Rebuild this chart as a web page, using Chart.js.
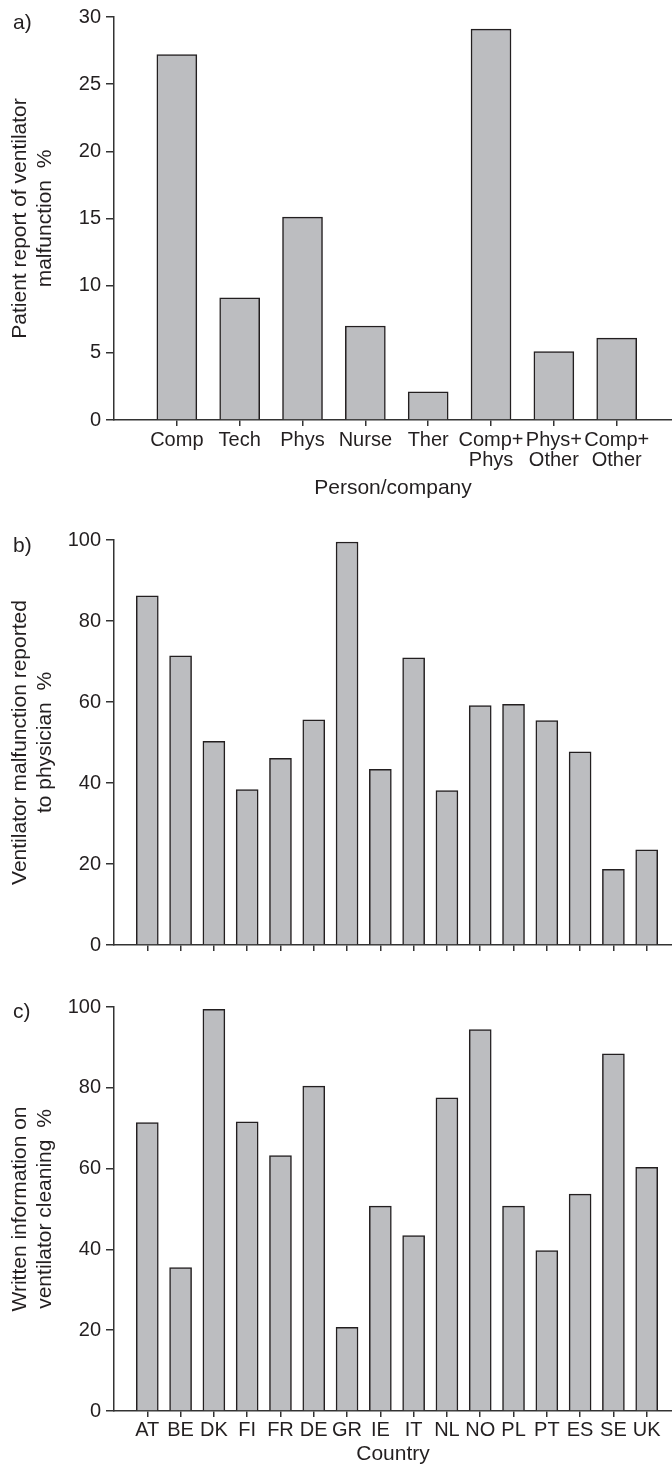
<!DOCTYPE html>
<html>
<head>
<meta charset="utf-8">
<title>Ventilator survey</title>
<script src="https://cdn.jsdelivr.net/npm/chart.js@4/dist/chart.umd.min.js"></script>
<style>
  html, body { margin: 0; padding: 0; background: #ffffff; }
  body { width: 672px; height: 1466px; position: relative; overflow: hidden; }
  canvas { position: absolute; left: 0; display: block; }
</style>
</head>
<body>
<canvas id="panelA" width="672" height="505" style="top:0px"></canvas>
<canvas id="panelB" width="672" height="485" style="top:505px"></canvas>
<canvas id="panelC" width="672" height="476" style="top:990px"></canvas>
<script>
// ---- data ----
const personCategories = ['Comp', 'Tech', 'Phys', 'Nurse', 'Ther', 'Comp+\nPhys', 'Phys+\nOther', 'Comp+\nOther'];
const patientReportMalfunction = [27.2, 9.1, 15.1, 7.0, 2.1, 29.1, 5.1, 6.1];

const countries = ['AT', 'BE', 'DK', 'FI', 'FR', 'DE', 'GR', 'IE', 'IT', 'NL', 'NO', 'PL', 'PT', 'ES', 'SE', 'UK'];
const reportedToPhysician = [86.2, 71.4, 50.3, 38.4, 46.1, 55.6, 99.5, 43.4, 70.9, 38.1, 59.1, 59.4, 55.4, 47.7, 18.7, 23.5];
const writtenCleaningInfo = [71.4, 35.5, 99.4, 71.6, 63.2, 80.4, 20.7, 50.7, 43.4, 77.5, 94.4, 50.7, 39.7, 53.7, 88.4, 60.3];

const yTicksPerson = [0, 5, 10, 15, 20, 25, 30];
const yTicksCountry = [0, 20, 40, 60, 80, 100];

// ---- styling ----
const INK = '#231f20';
const AXIS = '#333333';
const BAR_FILL = '#bcbdc0';
const FONT = '"Liberation Sans", Arial, Helvetica, sans-serif';

// small "a)", "b)", "c)" panel letters
const panelLetter = {
  id: 'panelLetter',
  afterDraw(chart, args, opts) {
    if (!opts || !opts.text) return;
    const ctx = chart.ctx;
    ctx.save();
    ctx.font = opts.size + 'px ' + FONT;
    ctx.fillStyle = INK;
    ctx.textAlign = 'left';
    ctx.textBaseline = 'alphabetic';
    ctx.fillText(opts.text, opts.x, opts.y);
    ctx.restore();
  }
};

function buildPanel(canvasId, cfg) {
  return new Chart(document.getElementById(canvasId), {
    type: 'bar',
    data: {
      datasets: [{
        data: cfg.values.map((v, i) => ({ x: i + 1, y: v })),
        backgroundColor: BAR_FILL,
        borderColor: INK,
        borderWidth: 1.5,
        barThickness: cfg.barWidth
      }]
    },
    options: {
      responsive: false,
      animation: false,
      devicePixelRatio: 1,
      layout: { padding: { top: cfg.padTop, left: 0, right: 0, bottom: 0 } },
      plugins: {
        legend: { display: false },
        tooltip: { enabled: false },
        panelLetter: cfg.letter
      },
      scales: {
        x: {
          type: 'linear',
          min: 0,
          max: cfg.xMax,
          offset: false,
          afterBuildTicks: s => { s.ticks = cfg.labels.map((_, i) => ({ value: i + 1 })); },
          afterFit: s => { s.height = cfg.xHeight; },
          grid: {
            display: true, offset: false, drawOnChartArea: false, drawTicks: true,
            tickLength: 6, color: AXIS, lineWidth: 1.5
          },
          border: { display: true, color: AXIS, width: 1.5 },
          ticks: {
            display: cfg.showXLabels,
            autoSkip: false, maxRotation: 0, minRotation: 0,
            padding: cfg.xPad,
            color: INK,
            font: { family: FONT, size: 20, lineHeight: 1.0 },
            callback: v => {
              const lbl = cfg.labels[Math.round(v) - 1];
              return lbl ? lbl.split('\n') : '';
            }
          },
          title: cfg.xTitle ? {
            display: true, text: cfg.xTitle, color: INK,
            font: { family: FONT, size: 21, lineHeight: 1.1 },
            padding: { top: 0, bottom: cfg.xTitlePad }
          } : { display: false }
        },
        y: {
          min: 0,
          max: cfg.yMax,
          afterBuildTicks: s => { s.ticks = cfg.yTicks.map(v => ({ value: v })); },
          afterFit: s => { s.width = 114; },
          grid: {
            display: true, drawOnChartArea: false, drawTicks: true,
            tickLength: 8, color: AXIS, lineWidth: 1.5
          },
          border: { display: true, color: AXIS, width: 1.5 },
          ticks: {
            padding: 5,
            color: INK,
            font: { family: FONT, size: 20 }
          },
          title: {
            display: true, text: cfg.yTitle, color: INK,
            font: { family: FONT, size: 21, lineHeight: 1.18 },
            padding: { top: 8.3, bottom: 0 }
          }
        }
      }
    },
    plugins: [panelLetter]
  });
}

// a) who the patient reports a malfunction to
buildPanel('panelA', {
  values: patientReportMalfunction,
  labels: personCategories,
  yTicks: yTicksPerson,
  yMax: 30,
  xMax: 8.88,
  barWidth: 40,
  padTop: 15,
  xHeight: 85,
  showXLabels: true,
  xPad: 4,
  xTitle: 'Person/company',
  xTitlePad: 5.7,
  yTitle: ['Patient report of ventilator', 'malfunction  %'],
  letter: { text: 'a)', x: 13, y: 28.5, size: 21 }
});

// b) malfunctions reported to the physician, by country
buildPanel('panelB', {
  values: reportedToPhysician,
  labels: countries,
  yTicks: yTicksCountry,
  yMax: 100,
  xMax: 16.76,
  barWidth: 22,
  padTop: 35,
  xHeight: 45,
  showXLabels: false,
  xPad: 3,
  xTitle: null,
  yTitle: ['Ventilator malfunction reported', 'to physician  %'],
  letter: { text: 'b)', x: 13, y: 47, size: 21 }
});

// c) written cleaning instructions, by country
buildPanel('panelC', {
  values: writtenCleaningInfo,
  labels: countries,
  yTicks: yTicksCountry,
  yMax: 100,
  xMax: 16.76,
  barWidth: 22,
  padTop: 15.7,
  xHeight: 55,
  showXLabels: true,
  xPad: 3.4,
  xTitle: 'Country',
  xTitlePad: 0.5,
  yTitle: ['Written information on', 'ventilator cleaning  %'],
  letter: { text: 'c)', x: 13, y: 28, size: 21 }
});
</script>
</body>
</html>
